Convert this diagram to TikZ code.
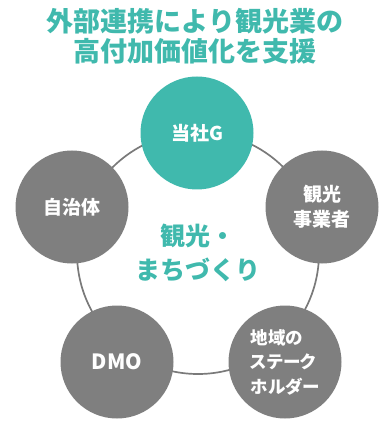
\documentclass[tikz,border=0pt]{standalone}
\usepackage{fontspec}
\setmainfont{Noto Sans CJK JP}
\newfontfamily\jppalt{Noto Sans CJK JP}[RawFeature=+palt]
\definecolor{teal1}{HTML}{40B9AD}
\definecolor{grey1}{HTML}{7F7F7F}
\definecolor{ringgrey}{HTML}{7A7A7A}
\tikzset{
  bubble/.style={circle, minimum size=113pt, inner sep=0pt, fill=grey1, text=white, align=center},
  topbubble/.style={bubble, fill=teal1},
  lbl/.style={font=\bfseries\fontsize{19}{25}\selectfont},
}
\begin{document}
\begin{tikzpicture}[x=1pt,y=-1pt]
\useasboundingbox (0,0) rectangle (385,427);
\node[inner sep=0pt, align=center, text=teal1, font=\bfseries\fontsize{27}{30.5}\selectfont] (title) at (195,36) {外部連携により観光業の\\高付加価値化を支援};
\node[circle, minimum size=242pt, inner sep=0pt, draw=ringgrey, line width=1.7pt] (ring) at (198,253) {};
\node[topbubble, lbl] (g) at (197,133) {当社G};
\node[bubble, lbl] (jichi) at (72,207) {自治体};
\node[bubble, lbl] (jigyo) at (322,207) {観光\\事業者};
\node[bubble, font=\bfseries\fontsize{21}{25}\selectfont] (dmo) at (117,362) {DMO};
\node[bubble] (stake) at (285,362) {};
\node[inner sep=0pt, align=left, text=white, font=\jppalt\bfseries\fontsize{17.5}{24.5}\selectfont] (stakelbl) at (stake.center) {地域の\\ステーク\\ホルダー};
\node[inner sep=0pt, align=center, text=teal1, font=\bfseries\fontsize{25}{33.5}\selectfont] (center) at (ring.center) {観光・\\まちづくり};
\end{tikzpicture}
\end{document}
